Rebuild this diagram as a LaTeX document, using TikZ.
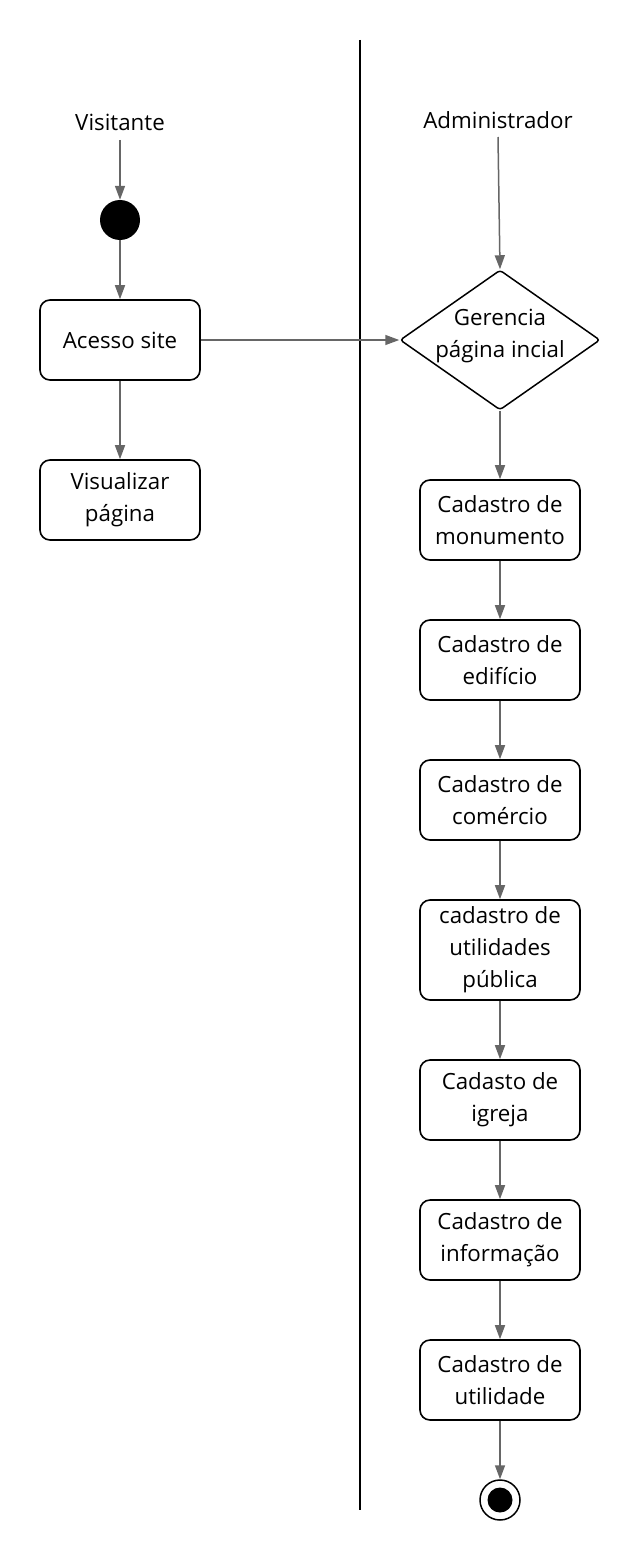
\documentclass[tikz,border=0pt]{standalone}
\usepackage{fontspec}
\setmainfont{Open Sans}
\usetikzlibrary{arrows.meta,shapes.geometric}
\begin{document}
\begin{tikzpicture}[x=1pt,y=-1pt,
  act/.style={draw=black,line width=1.6pt,rounded corners=10pt,minimum width=160pt,minimum height=80pt,align=center,inner sep=0pt,font=\fontsize{22.3}{32}\selectfont},
  lbl/.style={inner sep=0pt,font=\fontsize{22.3}{32}\selectfont},
  flow/.style={draw=black!60,line width=1.5pt,-{Triangle[width=10pt,length=14pt]}}
]
\useasboundingbox (0,0) rectangle (640,1560);
\draw[line width=1.5pt] (360,40) coordinate (lt) -- (360,1510) coordinate (lb);
\node[lbl] (vis) at (120,122) {Visitante};
\node[lbl] (adm) at (498,120) {Administrador};
\node[circle,fill=black,minimum size=40pt,inner sep=0pt] (start) at (120,220) {};
\node[act] (acesso) at (120,340) {Acesso site};
\node[act] (visual) at (120,500) {Visualizar\\página};
\node[diamond,draw=black,line width=1.5pt,minimum width=200pt,minimum height=140pt,aspect=1.43,inner sep=0pt,rounded corners=3pt] (ger) at (500,340) {};
\node[lbl,align=center] (gertxt) at (500,336) {Gerencia\\página incial};
\node[act] (mon) at (500,520) {Cadastro de\\monumento};
\node[act] (edi) at (500,660) {Cadastro de\\edifício};
\node[act] (com) at (500,800) {Cadastro de\\comércio};
\node[act,minimum height=100pt] (upub) at (500,950) {cadastro de\\utilidades\\pública};
\node[act] (igr) at (500,1100) {Cadasto de\\igreja};
\node[act] (inf) at (500,1240) {Cadastro de\\informação};
\node[act] (uti) at (500,1380) {Cadastro de\\utilidade};
\node[circle,draw=black,line width=1.5pt,minimum size=40pt,inner sep=0pt] (end) at (500,1500) {};
\node[circle,fill=black,minimum size=25pt,inner sep=0pt] (endin) at (500,1500) {};
\coordinate (vs) at (120,140);
\coordinate (as) at (498,137);
\draw[flow] (vs) -- (start.north);
\draw[flow] (start.south) -- (acesso.north);
\draw[flow] (acesso.south) -- (visual.north);
\draw[flow] (acesso.east) -- (ger.west);
\draw[flow] (as) -- (ger.north);
\draw[flow] (ger.south) -- (mon.north);
\draw[flow] (mon) -- (edi);
\draw[flow] (edi) -- (com);
\draw[flow] (com) -- (upub);
\draw[flow] (upub) -- (igr);
\draw[flow] (igr) -- (inf);
\draw[flow] (inf) -- (uti);
\draw[flow] (uti) -- (end);
\end{tikzpicture}
\end{document}
